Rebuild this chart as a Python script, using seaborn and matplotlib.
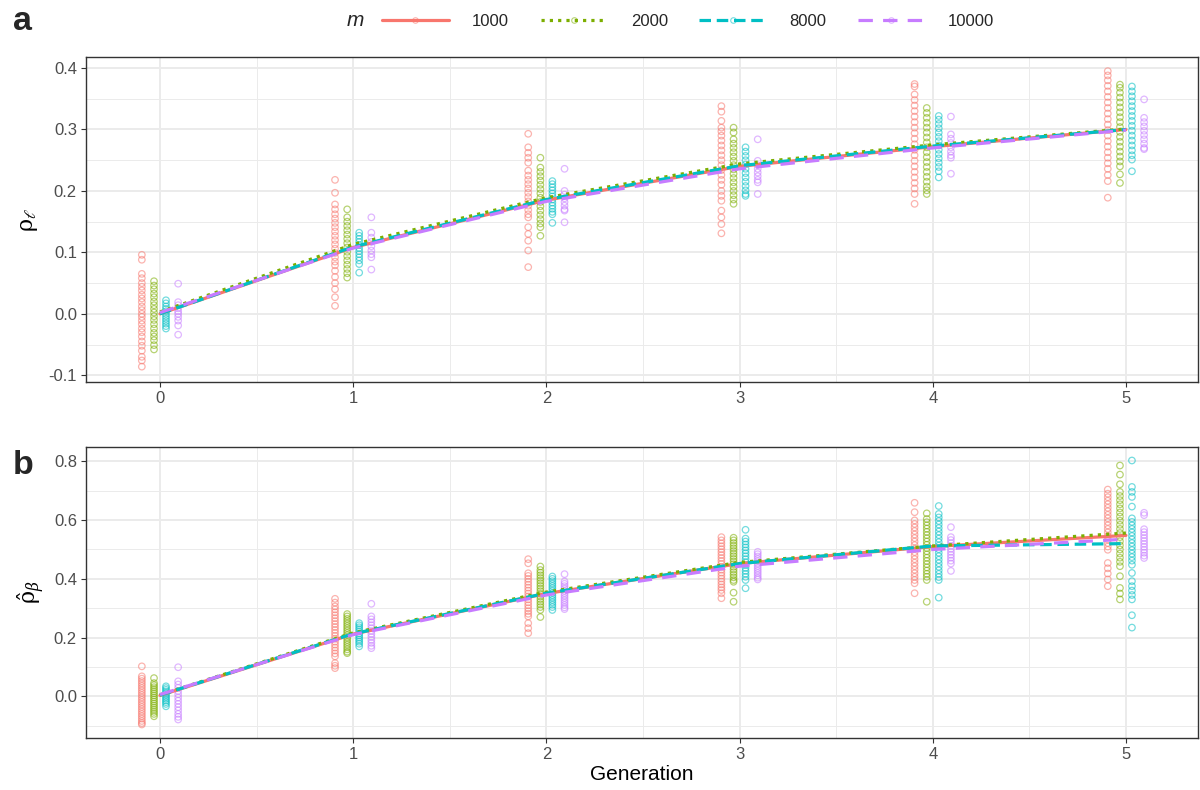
import matplotlib
matplotlib.use("Agg")
import matplotlib.pyplot as plt
from matplotlib.lines import Line2D
from matplotlib.ticker import MultipleLocator, FixedLocator
import numpy as np
import pandas as pd
import seaborn as sns

# ---------------- data ----------------
generations = [0, 1, 2, 3, 4, 5]
m_levels = ["1000", "2000", "8000", "10000"]
palette = ["#F8766D", "#7CAE00", "#00BFC4", "#C77CFF"]

# panel a: rho_l, per m, per generation (replicate values)
rho_l_1000 = [
    [0.096, 0.088, 0.065, 0.058, 0.050, 0.044, 0.038, 0.031, 0.025, 0.019, 0.012, 0.006, 0.000, -0.005, -0.011, -0.017, -0.024, -0.030, -0.037, -0.045, -0.052, -0.060, -0.070, -0.076, -0.086],
    [0.218, 0.197, 0.178, 0.170, 0.162, 0.155, 0.148, 0.141, 0.134, 0.127, 0.120, 0.113, 0.106, 0.099, 0.092, 0.085, 0.079, 0.070, 0.060, 0.050, 0.040, 0.027, 0.013],
    [0.293, 0.271, 0.262, 0.254, 0.246, 0.233, 0.225, 0.218, 0.211, 0.204, 0.197, 0.190, 0.183, 0.176, 0.169, 0.162, 0.157, 0.141, 0.130, 0.119, 0.103, 0.076],
    [0.338, 0.329, 0.314, 0.303, 0.297, 0.290, 0.282, 0.274, 0.266, 0.258, 0.250, 0.242, 0.234, 0.226, 0.218, 0.210, 0.200, 0.192, 0.184, 0.168, 0.157, 0.146, 0.131],
    [0.374, 0.370, 0.357, 0.348, 0.339, 0.330, 0.321, 0.312, 0.303, 0.294, 0.285, 0.276, 0.267, 0.258, 0.249, 0.240, 0.231, 0.222, 0.213, 0.204, 0.195, 0.179],
    [0.395, 0.388, 0.380, 0.371, 0.362, 0.353, 0.344, 0.335, 0.326, 0.317, 0.308, 0.299, 0.290, 0.281, 0.272, 0.263, 0.254, 0.245, 0.236, 0.226, 0.216, 0.189],
]
rho_l_2000 = [
    [0.053, 0.046, 0.040, 0.033, 0.027, 0.020, 0.014, 0.008, 0.002, -0.004, -0.010, -0.017, -0.024, -0.031, -0.037, -0.043, -0.051, -0.058],
    [0.170, 0.157, 0.150, 0.143, 0.136, 0.129, 0.122, 0.115, 0.108, 0.101, 0.094, 0.087, 0.080, 0.073, 0.066, 0.059],
    [0.254, 0.238, 0.231, 0.224, 0.217, 0.210, 0.203, 0.196, 0.189, 0.182, 0.175, 0.168, 0.161, 0.154, 0.147, 0.141, 0.127],
    [0.303, 0.295, 0.284, 0.277, 0.270, 0.263, 0.256, 0.249, 0.242, 0.235, 0.228, 0.221, 0.214, 0.207, 0.200, 0.193, 0.186, 0.179],
    [0.335, 0.327, 0.319, 0.311, 0.303, 0.295, 0.287, 0.279, 0.271, 0.263, 0.255, 0.247, 0.239, 0.231, 0.223, 0.215, 0.207, 0.201, 0.195],
    [0.373, 0.368, 0.360, 0.352, 0.344, 0.336, 0.328, 0.320, 0.312, 0.304, 0.296, 0.288, 0.280, 0.272, 0.264, 0.256, 0.248, 0.240, 0.227, 0.213],
]
rho_l_8000 = [
    [0.022, 0.017, 0.012, 0.008, 0.004, 0.000, -0.004, -0.008, -0.012, -0.016, -0.020, -0.024],
    [0.132, 0.127, 0.122, 0.117, 0.112, 0.107, 0.102, 0.097, 0.092, 0.087, 0.081, 0.067],
    [0.216, 0.211, 0.206, 0.201, 0.196, 0.191, 0.186, 0.181, 0.176, 0.171, 0.166, 0.162, 0.148],
    [0.271, 0.264, 0.257, 0.250, 0.243, 0.236, 0.229, 0.222, 0.215, 0.208, 0.201, 0.195, 0.192],
    [0.322, 0.316, 0.309, 0.302, 0.295, 0.288, 0.281, 0.274, 0.267, 0.260, 0.253, 0.246, 0.239, 0.232, 0.222],
    [0.370, 0.362, 0.354, 0.346, 0.338, 0.330, 0.322, 0.314, 0.306, 0.298, 0.290, 0.282, 0.274, 0.266, 0.258, 0.251, 0.232],
]
rho_l_10000 = [
    [0.049, 0.019, 0.014, 0.009, 0.004, 0.000, -0.005, -0.011, -0.019, -0.034],
    [0.157, 0.132, 0.124, 0.117, 0.110, 0.103, 0.097, 0.092, 0.072],
    [0.236, 0.200, 0.194, 0.188, 0.182, 0.176, 0.170, 0.168, 0.149],
    [0.284, 0.249, 0.242, 0.236, 0.230, 0.224, 0.218, 0.214, 0.195],
    [0.321, 0.292, 0.285, 0.278, 0.271, 0.264, 0.258, 0.254, 0.228],
    [0.349, 0.319, 0.312, 0.305, 0.298, 0.291, 0.284, 0.277, 0.270, 0.268],
]

# panel b: rho_beta hat
rho_b_1000 = [
    [0.102, 0.068, 0.060, 0.052, 0.044, 0.036, 0.028, 0.020, 0.012, 0.004, -0.004, -0.012, -0.020, -0.028, -0.036, -0.044, -0.052, -0.060, -0.068, -0.076, -0.084, -0.091, -0.096],
    [0.332, 0.319, 0.306, 0.296, 0.286, 0.276, 0.266, 0.256, 0.246, 0.236, 0.226, 0.216, 0.206, 0.196, 0.186, 0.176, 0.166, 0.156, 0.146, 0.136, 0.113, 0.104, 0.096],
    [0.467, 0.453, 0.419, 0.410, 0.400, 0.390, 0.380, 0.370, 0.360, 0.350, 0.340, 0.330, 0.320, 0.310, 0.300, 0.290, 0.281, 0.272, 0.249, 0.232, 0.215],
    [0.542, 0.531, 0.521, 0.511, 0.501, 0.491, 0.481, 0.471, 0.461, 0.451, 0.441, 0.431, 0.421, 0.411, 0.401, 0.391, 0.381, 0.371, 0.362, 0.351, 0.334],
    [0.659, 0.627, 0.599, 0.587, 0.575, 0.563, 0.551, 0.539, 0.527, 0.515, 0.503, 0.491, 0.479, 0.467, 0.455, 0.443, 0.431, 0.419, 0.407, 0.396, 0.385, 0.351],
    [0.704, 0.690, 0.678, 0.666, 0.654, 0.642, 0.630, 0.618, 0.606, 0.594, 0.582, 0.570, 0.558, 0.546, 0.534, 0.522, 0.510, 0.499, 0.454, 0.436, 0.418, 0.398, 0.375],
]
rho_b_2000 = [
    [0.062, 0.045, 0.038, 0.031, 0.024, 0.017, 0.010, 0.003, -0.004, -0.011, -0.018, -0.025, -0.032, -0.039, -0.046, -0.053, -0.060, -0.068],
    [0.280, 0.272, 0.264, 0.256, 0.248, 0.240, 0.232, 0.224, 0.216, 0.208, 0.200, 0.192, 0.184, 0.176, 0.168, 0.160, 0.152, 0.147],
    [0.442, 0.430, 0.421, 0.412, 0.403, 0.394, 0.385, 0.376, 0.367, 0.358, 0.349, 0.340, 0.331, 0.322, 0.313, 0.304, 0.294, 0.270],
    [0.540, 0.531, 0.522, 0.513, 0.504, 0.495, 0.486, 0.477, 0.468, 0.459, 0.450, 0.441, 0.432, 0.423, 0.414, 0.405, 0.396, 0.390, 0.353, 0.322],
    [0.623, 0.604, 0.593, 0.582, 0.571, 0.560, 0.549, 0.538, 0.527, 0.516, 0.505, 0.494, 0.483, 0.472, 0.461, 0.450, 0.439, 0.428, 0.417, 0.407, 0.396, 0.322],
    [0.786, 0.755, 0.722, 0.696, 0.682, 0.668, 0.654, 0.640, 0.626, 0.612, 0.598, 0.584, 0.570, 0.556, 0.542, 0.528, 0.514, 0.500, 0.486, 0.472, 0.458, 0.443, 0.409, 0.369, 0.350, 0.330],
]
rho_b_8000 = [
    [0.034, 0.028, 0.022, 0.016, 0.010, 0.004, -0.002, -0.008, -0.014, -0.020, -0.026, -0.034],
    [0.249, 0.242, 0.235, 0.228, 0.221, 0.214, 0.207, 0.200, 0.193, 0.186, 0.179, 0.170],
    [0.408, 0.400, 0.392, 0.384, 0.376, 0.368, 0.360, 0.352, 0.344, 0.336, 0.328, 0.320, 0.312, 0.304, 0.294],
    [0.567, 0.537, 0.527, 0.517, 0.507, 0.497, 0.487, 0.477, 0.467, 0.457, 0.447, 0.437, 0.427, 0.417, 0.407, 0.396, 0.368],
    [0.648, 0.621, 0.609, 0.597, 0.585, 0.573, 0.561, 0.549, 0.537, 0.525, 0.513, 0.501, 0.489, 0.477, 0.465, 0.453, 0.441, 0.429, 0.417, 0.406, 0.396, 0.336],
    [0.803, 0.713, 0.696, 0.679, 0.646, 0.606, 0.594, 0.582, 0.570, 0.558, 0.546, 0.534, 0.522, 0.510, 0.498, 0.486, 0.474, 0.462, 0.448, 0.420, 0.392, 0.375, 0.360, 0.345, 0.330, 0.276, 0.234],
]
rho_b_10000 = [
    [0.099, 0.051, 0.040, 0.029, 0.018, 0.007, -0.004, -0.015, -0.026, -0.037, -0.048, -0.060, -0.070, -0.079],
    [0.315, 0.272, 0.262, 0.252, 0.242, 0.232, 0.222, 0.212, 0.202, 0.192, 0.182, 0.172, 0.164],
    [0.416, 0.391, 0.383, 0.375, 0.367, 0.359, 0.351, 0.343, 0.335, 0.327, 0.319, 0.311, 0.303, 0.297],
    [0.492, 0.484, 0.476, 0.468, 0.460, 0.452, 0.444, 0.436, 0.428, 0.420, 0.412, 0.404, 0.398],
    [0.576, 0.542, 0.532, 0.522, 0.512, 0.502, 0.492, 0.482, 0.472, 0.462, 0.452, 0.427],
    [0.625, 0.617, 0.569, 0.559, 0.549, 0.539, 0.529, 0.519, 0.509, 0.499, 0.489, 0.479, 0.471],
]

# mean lines
mean_l_1000 = [0.000, 0.108, 0.185, 0.240, 0.272, 0.300]
mean_l_2000 = [0.003, 0.113, 0.189, 0.244, 0.275, 0.301]
mean_l_8000 = [0.000, 0.109, 0.186, 0.241, 0.273, 0.300]
mean_l_10000 = [0.002, 0.107, 0.183, 0.236, 0.270, 0.299]

mean_b_1000 = [0.003, 0.212, 0.350, 0.452, 0.510, 0.548]
mean_b_2000 = [0.005, 0.216, 0.355, 0.456, 0.512, 0.556]
mean_b_8000 = [0.004, 0.213, 0.351, 0.452, 0.512, 0.520]
mean_b_10000 = [0.006, 0.210, 0.345, 0.443, 0.500, 0.535]

# ---------------- build frames ----------------
dodge = dict(zip(m_levels, [-0.094, -0.031, 0.031, 0.094]))


def points_frame(series):
    rows = []
    for m, groups in zip(m_levels, series):
        for g, vals in zip(generations, groups):
            for v in vals:
                rows.append((m, g, v))
    df = pd.DataFrame(rows, columns=["m", "gen", "value"])
    df["xpos"] = df["gen"] + df["m"].map(dodge)
    return df


def mean_frame(series):
    rows = []
    for m, vals in zip(m_levels, series):
        for g, v in zip(generations, vals):
            rows.append((m, g, v))
    return pd.DataFrame(rows, columns=["m", "gen", "value"])


pts_a = points_frame([rho_l_1000, rho_l_2000, rho_l_8000, rho_l_10000])
pts_b = points_frame([rho_b_1000, rho_b_2000, rho_b_8000, rho_b_10000])
mean_a = mean_frame([mean_l_1000, mean_l_2000, mean_l_8000, mean_l_10000])
mean_b = mean_frame([mean_b_1000, mean_b_2000, mean_b_8000, mean_b_10000])

# ---------------- style ----------------
sns.set_theme(style="white")
plt.rcParams["font.family"] = ["Liberation Sans", "DejaVu Sans"]
plt.rcParams["mathtext.fontset"] = "dejavuserif"

pal = dict(zip(m_levels, palette))
dashes = {"1000": "", "2000": (1.0, 1.6), "8000": (3.6, 1.8), "10000": (4.5, 3.2)}
line_lw = 2.3
pt_alpha = 0.55

fig = plt.figure(figsize=(12, 7.9), dpi=100)
W, H = 1200, 790
left, right = 86 / W, 1198 / W
ax_a = fig.add_axes([left, 1 - 382 / H, right - left, (382 - 57) / H])
ax_b = fig.add_axes([left, 1 - 738 / H, right - left, (738 - 447) / H])


def draw(ax, pts, means):
    sns.scatterplot(data=pts, x="xpos", y="value", hue="m", hue_order=m_levels,
                    palette=pal, ax=ax, legend=False, s=22, marker="o",
                    linewidth=0.9, zorder=2)
    coll = ax.collections[-1]
    fc = coll.get_facecolors()
    coll.set_edgecolors(fc)
    coll.set_facecolors("none")
    coll.set_alpha(pt_alpha)
    sns.lineplot(data=means, x="gen", y="value", hue="m", hue_order=m_levels,
                 style="m", style_order=m_levels, dashes=dashes, palette=pal,
                 ax=ax, legend=False, lw=line_lw, estimator=None, zorder=3)
    ax.set_xlim(-0.383, 5.373)
    ax.xaxis.set_major_locator(FixedLocator(generations))
    ax.xaxis.set_minor_locator(MultipleLocator(0.5))
    ax.grid(which="major", color="#EBEBEB", lw=1.4)
    ax.grid(which="minor", color="#EBEBEB", lw=0.7)
    ax.set_axisbelow(True)
    for sp in ax.spines.values():
        sp.set_color("#333333")
        sp.set_linewidth(1.0)
        sp.set_visible(True)
    ax.tick_params(which="major", length=3.5, width=0.8, color="#333333",
                   labelcolor="#4D4D4D", labelsize=12, pad=3,
                   left=True, bottom=True)
    ax.tick_params(which="minor", length=0, left=False, bottom=False)
    ax.set_xlabel("")


draw(ax_a, pts_a, mean_a)
draw(ax_b, pts_b, mean_b)

ax_a.set_ylim(-0.111, 0.418)
ax_a.yaxis.set_minor_locator(MultipleLocator(0.05))
ax_a.set_yticks([-0.1, 0.0, 0.1, 0.2, 0.3, 0.4])
ax_a.set_yticklabels(["-0.1", "0.0", "0.1", "0.2", "0.3", "0.4"])
ax_a.set_xticklabels([str(g) for g in generations])

ax_b.set_ylim(-0.142, 0.849)
ax_b.set_yticks([0.0, 0.2, 0.4, 0.6, 0.8])
ax_b.yaxis.set_minor_locator(MultipleLocator(0.1))
ax_b.set_yticklabels(["0.0", "0.2", "0.4", "0.6", "0.8"])
ax_b.set_xticklabels([str(g) for g in generations])

ax_a.set_ylabel(r"$\mathrm{\rho}_{\ell}$", fontsize=16, color="black")
ax_a.yaxis.label.set_va("center")
ax_a.yaxis.set_label_coords((30 - 86) / 1112, 0.5)
ax_b.set_ylabel(r"$\hat{\mathrm{\rho}}_{\beta}$", fontsize=16, color="black")
ax_b.yaxis.label.set_va("center")
ax_b.yaxis.set_label_coords((31 - 86) / 1112, 0.5)

ax_b.set_xlabel("Generation", fontsize=15, color="black")
ax_b.xaxis.label.set_va("center")
ax_b.xaxis.set_label_coords(0.5, -(775 - 738) / 291)

# panel tags
fig.text(13 / W, 1 - 21.5 / H, "a", fontsize=24.5, fontweight="bold", va="center", ha="left")
fig.text(13 / W, 1 - 465 / H, "b", fontsize=24.5, fontweight="bold", va="center", ha="left")

# legend
handles = []
for m in m_levels:
    col = pal[m]
    ls = "-" if dashes[m] == "" else (0, dashes[m])
    rgba = matplotlib.colors.to_rgba(col, pt_alpha)
    handles.append(Line2D([0], [0], color=col, lw=line_lw, ls=ls, marker="o",
                          markersize=4, markerfacecolor="none",
                          markeredgecolor=rgba, markeredgewidth=0.8))
fig.text(355 / W, 1 - 20 / H, "m", fontsize=15, style="italic", ha="center", va="center")
fig.legend(handles, m_levels, ncol=4, loc="center left",
           bbox_to_anchor=(382 / W, 1 - 21 / H), frameon=False,
           handlelength=4.0, handletextpad=1.4, columnspacing=1.9, fontsize=12,
           borderaxespad=0, borderpad=0)

fig.savefig("out.png", dpi=100)
